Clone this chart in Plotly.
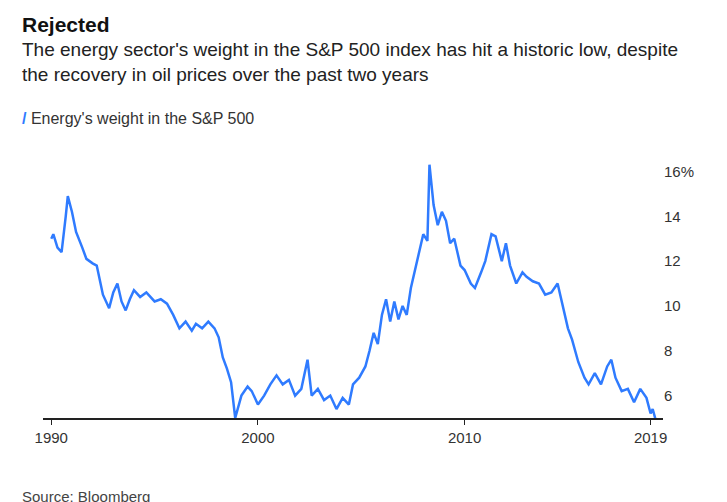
import plotly.graph_objects as go

# Energy's weight in the S&P 500 (%)
years = [1990.0, 1990.1, 1990.3, 1990.5, 1990.7, 1990.8, 1991.0, 1991.2, 1991.5, 1991.7,
         1992.0, 1992.2, 1992.5, 1992.8, 1993.0, 1993.2, 1993.4, 1993.6, 1993.8, 1994.0,
         1994.3, 1994.6, 1995.0, 1995.3, 1995.6, 1995.9, 1996.2, 1996.5, 1996.8, 1997.0,
         1997.3, 1997.6, 1997.9, 1998.1, 1998.3, 1998.5, 1998.7, 1998.9, 1999.2, 1999.5,
         1999.7, 2000.0, 2000.3, 2000.6, 2000.9, 2001.2, 2001.5, 2001.8, 2002.1, 2002.4,
         2002.6, 2002.9, 2003.2, 2003.5, 2003.8, 2004.1, 2004.4, 2004.6, 2004.9, 2005.2,
         2005.4, 2005.6, 2005.8, 2006.0, 2006.2, 2006.4, 2006.6, 2006.8, 2007.0, 2007.2,
         2007.4, 2007.6, 2007.8, 2008.0, 2008.2, 2008.3, 2008.5, 2008.7, 2008.9, 2009.1,
         2009.3, 2009.5, 2009.8, 2010.0, 2010.3, 2010.5, 2010.8, 2011.0, 2011.3, 2011.5,
         2011.8, 2012.0, 2012.2, 2012.5, 2012.8, 2013.0, 2013.3, 2013.6, 2013.9, 2014.2,
         2014.5, 2014.7, 2015.0, 2015.2, 2015.5, 2015.8, 2016.0, 2016.3, 2016.6, 2016.9,
         2017.1, 2017.3, 2017.6, 2017.9, 2018.2, 2018.5, 2018.8, 2019.0, 2019.1, 2019.25]
weight = [13.0, 13.2, 12.6, 12.4, 14.0, 14.9, 14.2, 13.3, 12.6, 12.1,
          11.9, 11.8, 10.5, 9.9, 10.6, 11.0, 10.2, 9.8, 10.3, 10.7,
          10.4, 10.6, 10.2, 10.3, 10.1, 9.6, 9.0, 9.3, 8.9, 9.2,
          9.0, 9.3, 9.0, 8.6, 7.7, 7.2, 6.6, 5.0, 6.0, 6.4,
          6.2, 5.6, 6.0, 6.5, 6.9, 6.5, 6.7, 6.0, 6.3, 7.6,
          6.0, 6.3, 5.8, 6.0, 5.4, 5.9, 5.6, 6.5, 6.8, 7.3,
          8.0, 8.8, 8.3, 9.6, 10.3, 9.3, 10.2, 9.4, 10.0, 9.6,
          10.8, 11.6, 12.5, 13.2, 12.9, 16.3, 14.5, 13.6, 14.2, 13.8,
          12.8, 13.0, 11.8, 11.6, 11.0, 10.8, 11.5, 12.0, 13.2, 13.1,
          12.0, 12.8, 11.8, 11.0, 11.5, 11.3, 11.1, 11.0, 10.5, 10.6,
          11.0, 10.2, 9.0, 8.5, 7.5, 6.8, 6.5, 7.0, 6.5, 7.3,
          7.6, 6.8, 6.2, 6.3, 5.7, 6.3, 5.9, 5.2, 5.4, 4.9]
x_ticks = [1990, 2000, 2010, 2019]
y_ticks = [6, 8, 10, 12, 14, 16]
y_labels = ["6", "8", "10", "12", "14", "16%"]

FONT = "Liberation Sans Narrow, Liberation Sans, Arial, sans-serif"
BLUE = "#2f7bff"

fig = go.Figure(go.Scatter(x=years, y=weight, mode="lines",
                           line=dict(color=BLUE, width=2.5), showlegend=False))

# plot area: pixels 150..410 tall (260 px), 35..655 wide (620 px)
X0 = -23 / 620


def py(pix):
    return (410 - pix) / 260


fig.update_layout(
    width=727, height=502,
    margin=dict(l=35, r=72, t=150, b=92),
    plot_bgcolor="white", paper_bgcolor="white",
    font=dict(family=FONT, size=15, color="#333"),
    xaxis=dict(range=[1989.6, 2019.6], tickvals=x_ticks, showgrid=False, zeroline=False,
               showline=True, linecolor="#222", linewidth=1.5, ticks="outside",
               ticklen=5, tickcolor="#222"),
    yaxis=dict(range=[5, 16.6], side="right", tickvals=y_ticks, ticktext=y_labels,
               showgrid=False, zeroline=False, showline=False),
    annotations=[
        dict(text="<b>Rejected</b>", x=X0, y=py(3), xanchor="left", yanchor="top",
             font=dict(size=21, color="#111")),
        dict(text="The energy sector's weight in the S&P 500 index has hit a historic low, despite"
                  "<br>the recovery in oil prices over the past two years",
             x=X0, y=py(29), xanchor="left", yanchor="top", align="left",
             font=dict(size=19, color="#222")),
        dict(text="<span style='color:%s'><b>/</b></span> Energy's weight in the S&P 500" % BLUE,
             x=X0, y=py(100), xanchor="left", yanchor="top",
             font=dict(size=16, color="#333")),
        dict(text="Source: Bloomberg", x=X0, y=py(478), xanchor="left", yanchor="top",
             font=dict(size=15, color="#444")),
    ],
)
fig.update_annotations(xref="paper", yref="paper", showarrow=False)

fig.write_html("out.html")
